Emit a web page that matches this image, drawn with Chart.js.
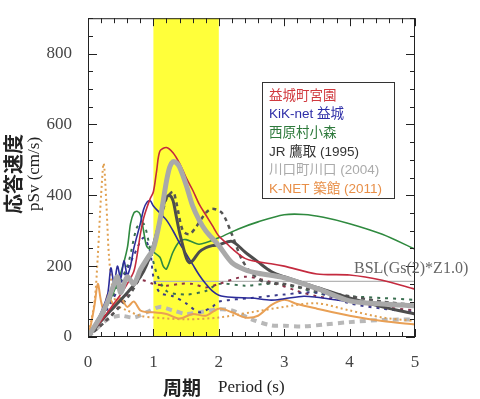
<!DOCTYPE html>
<html>
<head>
<meta charset="utf-8">
<script src="https://cdn.jsdelivr.net/npm/chart.js@4/dist/chart.umd.min.js"></script>
<style>
  html, body { margin: 0; padding: 0; background: #fff; }
  #wrap { width: 480px; height: 399px; }
</style>
</head>
<body>
<div id="wrap"><canvas id="myChart" width="480" height="399"></canvas></div>
<script>
// ticks / labels
const X_TICKS = [0, 1, 2, 3, 4, 5];
const Y_TICKS = [0, 200, 400, 600, 800];
const BAND = [1, 2];
const LEGEND_LABELS = ["益城町宮園", "KiK-net 益城", "西原村小森", "JR 鷹取 (1995)", "川口町川口 (2004)", "K-NET 築館 (2011)"];
const LEGEND_COLORS = ["#d13a3f", "#2e2ea8", "#2e7a3c", "#333333", "#aaaaaa", "#e88f48"];
const BSL_LABEL = "BSL(Gs(2)*Z1.0)";

// 益城町宮園
const mashikiT = [0, 0.1, 0.2, 0.3, 0.4, 0.5, 0.6, 0.7, 0.75, 0.8, 0.85, 0.9, 0.95, 1.0, 1.05, 1.1, 1.2, 1.3, 1.4, 1.5, 1.6, 1.7, 1.8, 1.9, 2.0, 2.1, 2.2, 2.4, 2.6, 2.8, 3.0, 3.5, 4.0, 4.5, 5.0];
const mashikiV = [0, 25, 45, 70, 95, 120, 150, 185, 230, 290, 335, 365, 390, 410, 470, 525, 535, 520, 490, 450, 415, 375, 345, 315, 285, 268, 250, 222, 212, 207, 200, 178, 175, 160, 135];
// KiK-net 益城
const kikT = [0, 0.1, 0.2, 0.3, 0.35, 0.4, 0.45, 0.5, 0.55, 0.6, 0.65, 0.7, 0.8, 0.85, 0.9, 0.95, 1.0, 1.1, 1.2, 1.3, 1.4, 1.5, 1.6, 1.7, 1.8, 1.9, 2.0, 2.2, 2.5, 2.8, 3.0, 3.3, 3.5, 4.0, 4.5, 5.0];
const kikV = [0, 35, 70, 120, 195, 150, 200, 165, 215, 175, 200, 250, 320, 360, 380, 385, 370, 350, 330, 300, 265, 235, 205, 175, 150, 130, 118, 112, 110, 104, 108, 115, 112, 100, 94, 86];
// 西原村小森
const nishiharaT = [0, 0.1, 0.2, 0.3, 0.4, 0.5, 0.6, 0.65, 0.7, 0.75, 0.8, 0.85, 0.9, 1.0, 1.1, 1.15, 1.2, 1.3, 1.4, 1.5, 1.7, 2.0, 2.3, 2.6, 3.0, 3.3, 3.6, 4.0, 4.5, 5.0];
const nishiharaV = [0, 25, 50, 90, 130, 180, 250, 320, 350, 355, 345, 300, 255, 240, 225, 200, 192, 240, 270, 275, 262, 280, 305, 325, 345, 346, 338, 320, 290, 248];
// JR 鷹取 (1995)
const takatoriT = [0, 0.2, 0.4, 0.6, 0.8, 0.9, 1.0, 1.1, 1.15, 1.2, 1.25, 1.3, 1.35, 1.4, 1.5, 1.55, 1.6, 1.7, 1.8, 1.9, 2.0, 2.2, 2.4, 2.6, 2.8, 3.0, 3.5, 4.0, 4.5, 5.0];
const takatoriV = [0, 45, 85, 125, 170, 205, 260, 330, 370, 395, 400, 385, 340, 295, 225, 210, 215, 240, 252, 258, 260, 270, 240, 212, 185, 170, 140, 110, 85, 65];
const takatori2T = [0, 0.3, 0.6, 0.8, 1.0, 1.1, 1.2, 1.3, 1.35, 1.45, 1.55, 1.65, 1.8, 1.9, 2.05, 2.2, 2.35, 2.5, 2.7, 3.0, 3.5, 4.0, 4.5, 5.0];
const takatori2V = [0, 50, 110, 170, 250, 320, 390, 410, 380, 300, 290, 310, 350, 362, 350, 290, 220, 180, 155, 150, 130, 115, 100, 90];
// 川口町川口 (2004)
const kawaguchiT = [0, 0.1, 0.2, 0.3, 0.4, 0.45, 0.5, 0.6, 0.7, 0.8, 0.9, 1.0, 1.1, 1.2, 1.25, 1.3, 1.35, 1.4, 1.5, 1.6, 1.7, 1.8, 2.0, 2.2, 2.4, 2.6, 3.0, 3.5, 4.0, 4.5, 5.0];
const kawaguchiV = [0, 30, 60, 100, 150, 170, 125, 170, 150, 190, 220, 250, 330, 440, 480, 495, 492, 480, 430, 370, 330, 300, 258, 210, 190, 180, 167, 137, 102, 93, 88];
const kawaguchi2T = [0, 0.3, 0.5, 0.7, 0.9, 1.1, 1.3, 1.5, 1.7, 2.0, 2.2, 2.5, 2.8, 3.0, 3.3, 3.6, 4.0, 4.5, 5.0];
const kawaguchi2V = [0, 50, 60, 55, 70, 85, 75, 65, 70, 78, 75, 50, 33, 32, 30, 35, 42, 48, 50];
// K-NET 築館 (2011)
const tsukidateT = [0, 0.05, 0.1, 0.15, 0.2, 0.25, 0.3, 0.4, 0.5, 0.6, 0.7, 0.8, 0.9, 1.0, 1.2, 1.4, 1.6, 1.8, 2.0, 2.2, 2.4, 2.6, 2.8, 3.0, 3.2, 3.5, 4.0, 4.5, 5.0];
const tsukidateV = [0, 40, 90, 150, 100, 70, 120, 90, 110, 85, 100, 75, 70, 70, 65, 52, 65, 60, 80, 70, 55, 60, 90, 105, 93, 80, 60, 45, 35];
const tsukidate2T = [0, 0.1, 0.15, 0.2, 0.24, 0.28, 0.32, 0.38, 0.45, 0.6, 0.8, 1.0, 1.5, 2.0, 2.5, 3.0, 3.5, 4.0, 4.5, 5.0];
const tsukidate2V = [0, 100, 230, 400, 490, 380, 230, 130, 90, 75, 60, 55, 50, 55, 70, 85, 95, 75, 55, 45];
// other components (dotted)
const kik2T = [0, 0.3, 0.5, 0.7, 0.85, 0.95, 1.0, 1.1, 1.3, 1.5, 1.7, 1.9, 2.0, 2.5, 3.0, 3.5, 4.0, 4.5, 5.0];
const kik2V = [0, 80, 150, 230, 280, 240, 170, 125, 115, 95, 70, 85, 100, 110, 120, 125, 95, 80, 70];
const mashiki2T = [0, 0.4, 0.6, 0.8, 1.0, 1.2, 1.4, 1.6, 1.8, 2.0, 2.4, 2.8, 3.2, 3.5, 4.0, 4.5, 5.0];
const mashiki2V = [0, 70, 120, 160, 150, 145, 150, 150, 140, 150, 170, 155, 130, 115, 100, 85, 75];
const nishihara2T = [0, 0.3, 0.6, 0.75, 0.85, 0.95, 1.05, 1.2, 1.5, 1.8, 2.0, 2.4, 2.8, 3.2, 3.6, 4.0, 4.5, 5.0];
const nishihara2V = [0, 90, 200, 310, 320, 250, 180, 130, 120, 130, 150, 145, 150, 140, 120, 115, 110, 105];
// BSL
const bslT = [1.0, 5.0];
const bslV = [157, 157];

const pts = (t, v) => t.map((x, i) => ({ x: x, y: v[i] }));

function line(data, color, width, dash) {
  return {
    data: data,
    borderColor: color,
    borderWidth: width,
    borderDash: dash || [],
    pointRadius: 0,
    tension: 0.3,
    fill: false,
  };
}

const serif = '"Liberation Serif", "Times New Roman", serif';

const bandPlugin = {
  id: "band",
  beforeDatasetsDraw(chart) {
    const { ctx, chartArea, scales } = chart;
    const x1 = scales.x.getPixelForValue(BAND[0]);
    const x2 = scales.x.getPixelForValue(BAND[1]);
    ctx.save();
    ctx.fillStyle = "#ffff3a";
    ctx.fillRect(x1, chartArea.top, x2 - x1, chartArea.bottom - chartArea.top);
    ctx.restore();
  },
};

const framePlugin = {
  id: "frame",
  afterDatasetsDraw(chart) {
    const { ctx, chartArea: a, scales } = chart;
    ctx.save();
    ctx.strokeStyle = "#222";
    ctx.lineWidth = 1;
    ctx.strokeRect(a.left + 0.5, a.top + 0.5, a.right - a.left - 1, a.bottom - a.top - 1);
    ctx.beginPath();
    for (let i = 0; i <= 25; i++) {
      const v = i * 0.2;
      const px = Math.round(scales.x.getPixelForValue(v)) + 0.5;
      const len = i % 5 === 0 ? 8 : 5;
      ctx.moveTo(px, a.bottom); ctx.lineTo(px, a.bottom - len);
      ctx.moveTo(px, a.top); ctx.lineTo(px, a.top + len);
    }
    for (let i = 0; i <= 18; i++) {
      const v = i * 50;
      const py = Math.round(scales.y.getPixelForValue(v)) + 0.5;
      const len = i % 4 === 0 ? 9 : 5;
      ctx.moveTo(a.left, py); ctx.lineTo(a.left + len, py);
      ctx.moveTo(a.right, py); ctx.lineTo(a.right - len, py);
    }
    ctx.stroke();

    // legend box
    const lx = 262, ly = 82, lw = 132, lh = 116;
    ctx.fillStyle = "#fff";
    ctx.fillRect(lx, ly, lw, lh);
    ctx.strokeStyle = "#333";
    ctx.strokeRect(lx + 0.5, ly + 0.5, lw, lh);
    ctx.font = '13.5px "Liberation Sans", "Noto Sans CJK JP", sans-serif';
    ctx.textBaseline = "middle";
    LEGEND_LABELS.forEach((t, i) => {
      ctx.fillStyle = LEGEND_COLORS[i];
      ctx.fillText(t, lx + 7, ly + 14 + i * 18.6);
    });

    // BSL label
    ctx.fillStyle = "#666";
    ctx.font = "16px " + serif;
    ctx.textBaseline = "alphabetic";
    ctx.fillText(BSL_LABEL, 354, 273);
    ctx.restore();
  },
  afterDraw(chart) {
    const { ctx } = chart;
    ctx.save();
    ctx.fillStyle = "#222";
    ctx.textBaseline = "middle";
    ctx.font = 'bold 19px "Noto Sans CJK JP", sans-serif';
    ctx.fillText("周期", 163, 388);
    ctx.font = "17px " + serif;
    ctx.fillText("Period (s)", 218, 388);

    ctx.translate(0, 174);
    ctx.rotate(-Math.PI / 2);
    ctx.textAlign = "center";
    ctx.font = 'bold 20px "Noto Sans CJK JP", sans-serif';
    ctx.fillText("応答速度", 0, 13);
    ctx.font = "17px " + serif;
    ctx.fillText("pSv (cm/s)", 0, 35);
    ctx.restore();
  },
};

const config = {
  type: "line",
  data: {
    datasets: [
      line(pts(kawaguchiT, kawaguchiV), "#a9a9a9", 5),
      line(pts(mashikiT, mashikiV), "#c42a3e", 1.6),
      line(pts(takatoriT, takatoriV), "#4d4d4d", 3),
      line(pts(kikT, kikV), "#2c2c9a", 1.6),
      line(pts(nishiharaT, nishiharaV), "#2f8a3f", 1.6),
      line(pts(tsukidateT, tsukidateV), "#e9a055", 2),
      line(pts(takatori2T, takatori2V), "#555555", 2.5, [4, 4]),
      line(pts(kik2T, kik2V), "#3a3a8a", 2, [3, 5]),
      line(pts(mashiki2T, mashiki2V), "#8a3048", 2, [3, 5]),
      line(pts(nishihara2T, nishihara2V), "#3a6f50", 2, [3, 5]),
      line(pts(tsukidate2T, tsukidate2V), "#e0a050", 2, [2, 3]),
      line(pts(kawaguchi2T, kawaguchi2V), "#b8b8b8", 4, [6, 5]),
      line(pts(bslT, bslV), "#b5b5b5", 1.2),
    ],
  },
  options: {
    responsive: false,
    animation: false,
    devicePixelRatio: 1,
    layout: { padding: { top: 9, right: 65, left: 0, bottom: 0 } },
    plugins: { legend: { display: false }, tooltip: { enabled: false } },
    scales: {
      x: {
        type: "linear",
        min: 0,
        max: 5,
        afterBuildTicks: (s) => { s.ticks = X_TICKS.map((v) => ({ value: v })); },
        afterFit: (s) => { s.height = 62; },
        grid: { display: false },
        border: { display: false },
        ticks: { color: "#444", font: { family: serif, size: 17 }, padding: 7, maxRotation: 0 },
      },
      y: {
        type: "linear",
        min: 0,
        max: 900,
        afterBuildTicks: (s) => { s.ticks = Y_TICKS.map((v) => ({ value: v })); },
        afterFit: (s) => { s.width = 88; },
        grid: { display: false },
        border: { display: false },
        ticks: { color: "#444", font: { family: serif, size: 17 }, padding: 8 },
      },
    },
  },
  plugins: [bandPlugin, framePlugin],
};

new Chart(document.getElementById("myChart"), config);
</script>
</body>
</html>
